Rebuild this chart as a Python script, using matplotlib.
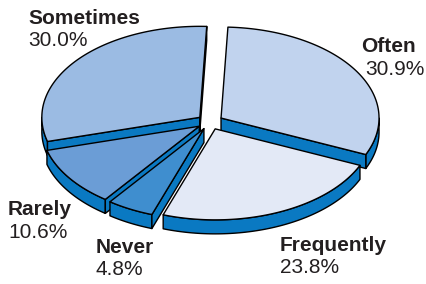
import matplotlib.pyplot as plt
import numpy as np
from matplotlib.patches import Polygon

# Data (clockwise from the top)
labels = ["Often", "Frequently", "Never", "Rarely", "Sometimes"]
shares = [30.9, 23.8, 4.8, 10.6, 30.0]

# Styling / layout
top_colors = ["#c1d3ee", "#e3e9f6", "#3f8ecf", "#6b9dd6", "#9bbbe3"]
wall_color = "#0a79c2"
text_color = "#231f20"
name_xy = [(361, 52), (280, 251), (96, 253), (8, 215), (28, 24)]
pct_xy = [(365, 75), (280, 273), (96, 275), (8, 238), (28, 46)]

cx, cy = 210, 122
rx, ry = 158, 91
depth = 14
explode = 13
start = 87.5


def pt(c, th):
    t = np.radians(np.atleast_1d(th))
    return np.column_stack([c[0] + rx * np.cos(t), c[1] - ry * np.sin(t)])


def patch(ax, xy, fc):
    ax.add_patch(Polygon(xy, closed=True, fc=fc, ec="black", lw=1.0,
                         joinstyle="round"))


fig = plt.figure(figsize=(4.26, 2.84), dpi=100)
ax = fig.add_axes([0, 0, 1, 1])
ax.set_xlim(0, 426)
ax.set_ylim(284, 0)
ax.axis("off")

total = sum(shares)
bounds = start - np.concatenate([[0], np.cumsum(shares)]) / total * 360

slices = []
for i in range(len(shares)):
    hi, lo = bounds[i], bounds[i + 1]
    mid = np.radians((hi + lo) / 2)
    c = np.array([cx + explode * np.cos(mid), cy - explode * ry / rx * np.sin(mid)])
    slices.append((np.sin(mid), i, hi, lo, c))

# back to front
for s, i, hi, lo, c in sorted(slices, key=lambda z: -z[0]):
    # outer wall (front half only)
    for k in (-1, 0, 1):
        a = max(lo, -180 + 360 * k)
        b = min(hi, 360 * k)
        if b > a:
            top = pt(c, np.linspace(a, b, 80))
            bot = top + [0, depth]
            patch(ax, np.vstack([top, bot[::-1]]), wall_color)
    # radial walls facing the viewer
    for edge, vis in ((hi, np.cos(np.radians(hi)) < 0), (lo, np.cos(np.radians(lo)) > 0)):
        if vis:
            p = pt(c, edge)[0]
            quad = np.array([c, p, p + [0, depth], c + [0, depth]])
            patch(ax, quad, wall_color)
    # top face
    face = np.vstack([[c], pt(c, np.linspace(hi, lo, 120))])
    patch(ax, face, top_colors[i])

for i in range(len(labels)):
    ax.text(name_xy[i][0], name_xy[i][1], labels[i], fontsize=15, fontweight="bold",
            family="Liberation Sans", color=text_color, va="baseline")
    ax.text(pct_xy[i][0], pct_xy[i][1], f"{shares[i]:.1f}%", fontsize=15,
            family="Liberation Sans", color=text_color, va="baseline")

fig.savefig("out.png", dpi=100)
